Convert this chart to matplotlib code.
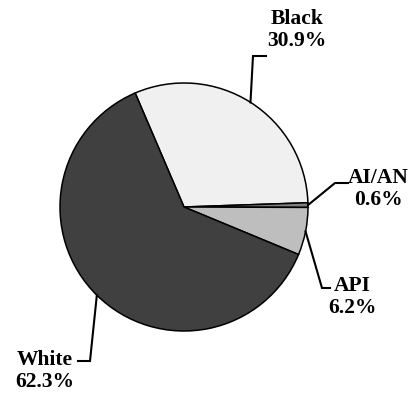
import numpy as np
import matplotlib
matplotlib.use('Agg')
import matplotlib.pyplot as plt

labels = ['Black', 'AI/AN', 'API', 'White']
shares = [30.9, 0.6, 6.2, 62.3]
colors = ['#f0f0f0', '#808080', '#bebebe', '#404040']

# label text position (pixels from top-left) and elbow point of the leader line
label_pos = {'Black': (297, 30), 'AI/AN': (378, 189), 'API': (352, 297), 'White': (45, 371)}
elbow = {'Black': (253, 56, 266), 'AI/AN': (335, 183, 348), 'API': (322, 288, 330), 'White': (90, 361, 78)}

W, H = 413, 393
fig = plt.figure(figsize=(W / 100, H / 100), dpi=100)
ax = fig.add_axes([0, 0, 1, 1])

cx, cy, R = 184, H - 207, 124
wedges, _ = ax.pie(shares, colors=colors, startangle=113.2, counterclock=False,
                   radius=R, center=(cx, cy), frame=True,
                   wedgeprops=dict(edgecolor='black', linewidth=1.1))
ax.set_xlim(0, W)
ax.set_ylim(0, H)
ax.set_aspect('equal')
ax.axis('off')

for w, name, val in zip(wedges, labels, shares):
    mid = np.deg2rad((w.theta1 + w.theta2) / 2)
    px, py = cx + R * np.cos(mid), cy + R * np.sin(mid)
    ex, ey, hx = elbow[name]
    ax.plot([px, ex, hx], [py, H - ey, H - ey], color='black', lw=1.5,
            solid_joinstyle='miter')
    tx, ty = label_pos[name]
    ax.text(tx, H - ty, f'{name}\n{val}%', ha='center', va='center',
            family='Liberation Serif', fontweight='bold', fontsize=15.5,
            linespacing=1.1)

fig.savefig('out.png', dpi=100)
